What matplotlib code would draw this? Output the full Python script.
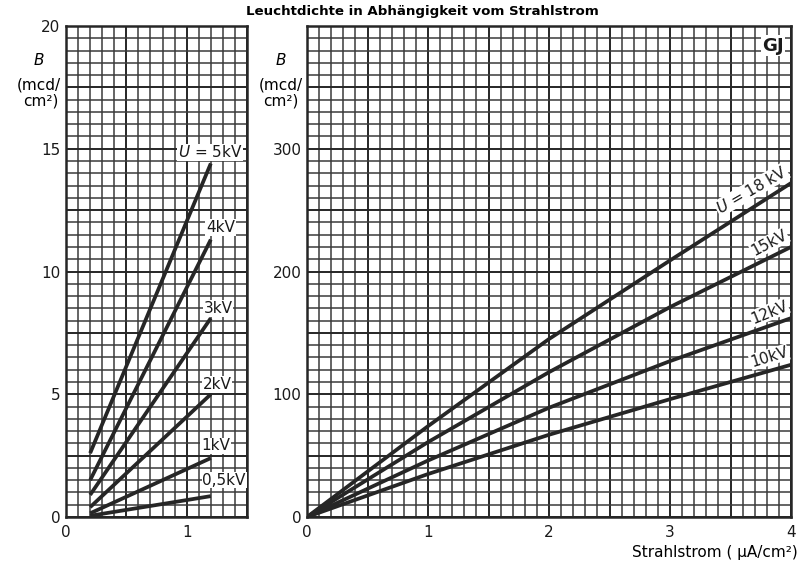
import numpy as np
import matplotlib
matplotlib.use("Agg")
import matplotlib.pyplot as plt
from matplotlib.ticker import MultipleLocator, FuncFormatter

# left panel: low anode voltages, beam current 0.2 .. 1.2 uA/cm2
i_low = [0.2, 1.2]
b_5kv = [2.6, 14.4]
b_4kv = [1.5, 11.3]
b_3kv = [0.9, 8.1]
b_2kv = [0.4, 5.0]
b_1kv = [0.15, 2.4]
b_05kv = [0.05, 0.85]
low_labels = ["$U$ = 5kV", "4kV", "3kV", "2kV", "1kV", "0,5kV"]

# right panel: high anode voltages, beam current 0 .. 4 uA/cm2
i_high = [0, 1, 2, 3, 4]
b_18kv = [0, 74, 145, 209, 272]
b_15kv = [0, 61, 118, 171, 220]
b_12kv = [0, 46, 89, 127, 162]
b_10kv = [0, 35, 67, 96, 124]
high_labels = ["$U$ = 18 kV", "15kV", "12kV", "10kV"]

ink = "#262626"
grid_ink = "#3a3a3a"

fig = plt.figure(figsize=(8.01, 5.74), dpi=100)
ax1 = fig.add_axes([66/801, 57/574, 181/801, 491/574])
ax2 = fig.add_axes([307/801, 57/574, 484/801, 491/574])


def paper(ax, xmax, ymax, xminor, yminor, ylab_step):
    ax.set_xlim(0, xmax)
    ax.set_ylim(0, ymax)
    ax.xaxis.set_major_locator(MultipleLocator(0.5))
    ax.xaxis.set_minor_locator(MultipleLocator(xminor))
    ax.yaxis.set_major_locator(MultipleLocator(yminor * 5))
    ax.yaxis.set_minor_locator(MultipleLocator(yminor))
    ax.xaxis.set_major_formatter(FuncFormatter(
        lambda v, p: "%d" % round(v) if abs(v - round(v)) < 1e-6 else ""))
    ax.yaxis.set_major_formatter(FuncFormatter(
        lambda v, p: "%d" % round(v) if abs(v / ylab_step - round(v / ylab_step)) < 1e-6
        and v < ymax * 0.99 or (ylab_step == 5 and abs(v - ymax) < 1e-6) else ""))
    ax.grid(which="minor", color=grid_ink, lw=1.1)
    ax.grid(which="major", color=ink, lw=1.4)
    ax.set_axisbelow(True)
    ax.tick_params(which="both", length=0, labelsize=11, colors="#1a1a1a")
    ax.tick_params(axis="x", pad=6)
    ax.tick_params(axis="y", pad=4)
    for s in ax.spines.values():
        s.set_linewidth(1.8)
        s.set_color(ink)


paper(ax1, 1.5, 20, 0.1, 0.5, 5)
paper(ax2, 4, 400, 0.1, 10, 100)

for ys, lab, lx, ly in zip([b_5kv, b_4kv, b_3kv, b_2kv, b_1kv, b_05kv], low_labels,
                           [1.46, 1.40, 1.38, 1.37, 1.36, 1.49],
                           [14.85, 11.8, 8.5, 5.4, 2.9, 1.5]):
    ax1.plot(i_low, ys, color=ink, lw=2.7, solid_capstyle="butt", zorder=3)
    ax1.text(lx, ly, lab, ha="right", va="center", fontsize=11, color="#1a1a1a",
             bbox=dict(fc="white", ec="none", pad=0.6), zorder=4)

for ys, lab, rot in zip([b_18kv, b_15kv, b_12kv, b_10kv], high_labels, [30, 28, 22, 17]):
    ax2.plot(i_high, ys, color=ink, lw=2.7, zorder=3)
    ax2.text(3.99, ys[-1] + 5, lab, ha="right", va="bottom", rotation=rot,
             rotation_mode="anchor", fontsize=11, color="#1a1a1a",
             bbox=dict(fc="white", ec="none", pad=0.6), zorder=4)

ax2.text(3.85, 384, "GJ", ha="center", va="center", fontsize=13, fontweight="bold",
         color="#1a1a1a", bbox=dict(fc="white", ec="none", pad=1.0), zorder=4)

# axis captions
fig.text(39/801, 1 - 60/574, "$B$", ha="center", va="center", fontsize=11)
fig.text(61/801, 1 - 85/574, "(mcd/", ha="right", va="center", fontsize=11)
fig.text(59/801, 1 - 101/574, "cm²)", ha="right", va="center", fontsize=11)
fig.text(281/801, 1 - 60/574, "$B$", ha="center", va="center", fontsize=11)
fig.text(303/801, 1 - 85/574, "(mcd/", ha="right", va="center", fontsize=11)
fig.text(299/801, 1 - 101/574, "cm²)", ha="right", va="center", fontsize=11)

fig.text(422/801, 1 - 12/574, "Leuchtdichte in Abhängigkeit vom Strahlstrom",
         ha="center", va="center", fontsize=9.6, fontweight="bold")
fig.text(798/801, 1 - 552/574, "Strahlstrom ( µA/cm²)", ha="right", va="center",
         fontsize=11)

fig.savefig("out.png", dpi=100, facecolor="white")
